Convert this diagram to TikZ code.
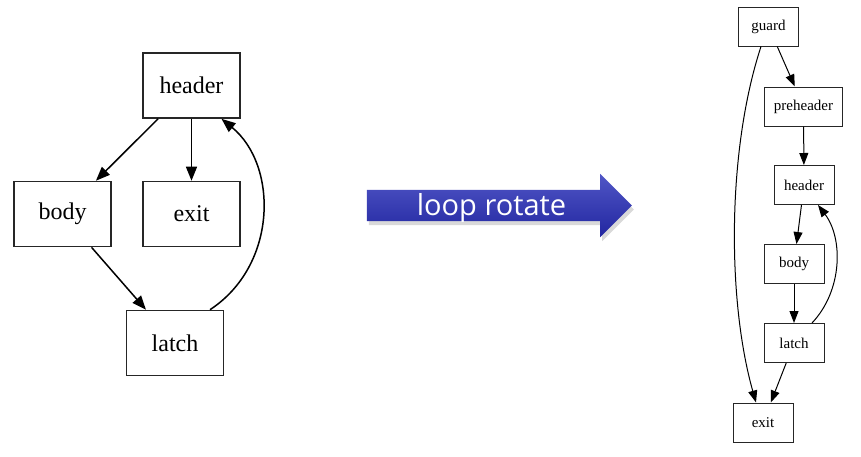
\documentclass[tikz,border=0pt]{standalone}
\usepackage{fontspec}
\setmainfont{Liberation Serif}
\newfontfamily\bannerfont{Open Sans}
\usetikzlibrary{arrows.meta,positioning,shapes.arrows,shadows}
\definecolor{bannerblue}{RGB}{40,45,168}
\definecolor{bannertop}{RGB}{80,86,198}
\definecolor{bannerlow}{RGB}{34,38,160}

\begin{document}
\begin{tikzpicture}[
    x=1pt, y=-1pt,
    bigbox/.style={
      draw=black!85,
      line width=1.6pt,
      minimum width=97pt,
      minimum height=65pt,
      inner sep=0pt,
      font=\fontsize{24pt}{28pt}\selectfont
    },
    smallbox/.style={
      draw=black!85,
      line width=1pt,
      minimum width=60pt,
      minimum height=39pt,
      inner xsep=9pt,
      font=\fontsize{15pt}{18pt}\selectfont
    },
    bigarrow/.style={-{Triangle[length=14pt,width=11pt]}, line width=1.5pt},
    smallarrow/.style={-{Triangle[length=12pt,width=9pt]}, line width=1pt}
  ]
    \useasboundingbox (0,0) rectangle (861,456);

    % before
    \node[bigbox] (header) at (191.5,85.5) {header};
    \node[bigbox] (body) at (62.5,214) {body};
    \node[bigbox] (exit) at (191.5,214) {exit};
    \node[bigbox] (latch) at (175,343) {latch};

    \draw[bigarrow] (header) -- (body);
    \draw[bigarrow] (header) -- (exit);
    \draw[bigarrow] (body) -- (latch);
    \draw[bigarrow] ([xshift=35pt]latch.north) .. controls (278,265) and (278,165) .. ([xshift=30pt]header.south);

    % banner
    \node[single arrow, minimum height=265pt, single arrow head extend=16pt,
      inner xsep=0pt, inner ysep=0pt, text height=25pt, text depth=6pt,
      top color=bannertop, middle color=bannerblue, bottom color=bannerlow, draw=none,
      drop shadow={shadow xshift=2pt, shadow yshift=-4pt, opacity=.3},
      text=white, font=\bannerfont\fontsize{29pt}{32pt}\selectfont] (rotate) at (491.5,205.5) {loop rotate};

    % after
    \node[smallbox] (rguard) at (768.5,26.5) {guard};
    \node[smallbox] (rpre) at (803.5,106.5) {preheader};
    \node[smallbox] (rheader) at (804,185) {header};
    \node[smallbox] (rbody) at (794,264) {body};
    \node[smallbox] (rlatch) at (794,343) {latch};
    \node[smallbox] (rexit) at (763,422.5) {exit};

    \draw[smallarrow] (rguard) -- (rpre);
    \draw[smallarrow] (rpre) -- (rheader);
    \draw[smallarrow] (rheader) -- (rbody);
    \draw[smallarrow] (rbody) -- (rlatch);
    \draw[smallarrow] (rlatch) -- (rexit);
    \draw[smallarrow] ([xshift=18pt]rlatch.north) .. controls (843,290) and (843,238) .. ([xshift=14pt]rheader.south);
    \draw[smallarrow] ([xshift=-7.5pt]rguard.south) .. controls (727,150) and (727,300) .. ([xshift=-7pt]rexit.north);
  \end{tikzpicture}
\end{document}
